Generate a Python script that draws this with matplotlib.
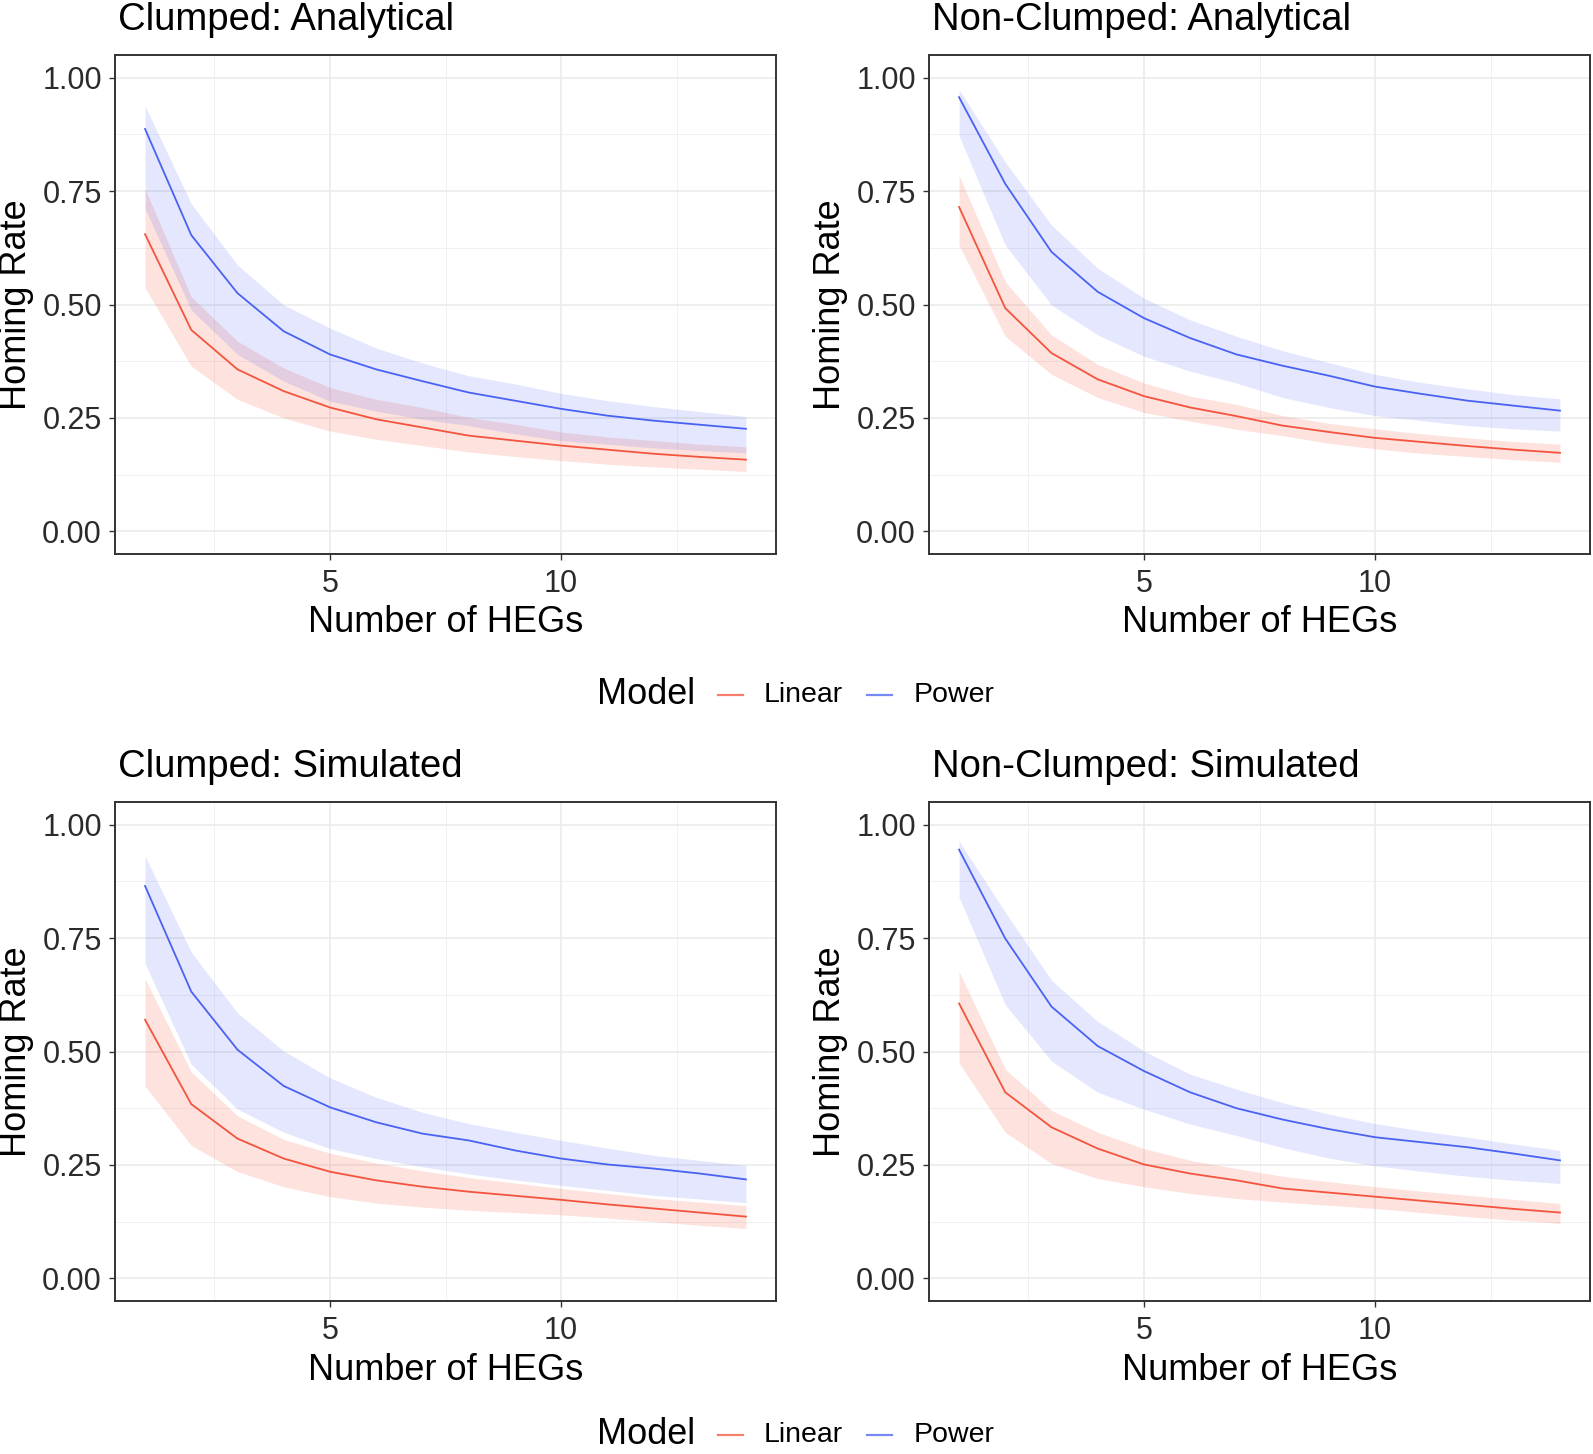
import matplotlib
matplotlib.use("Agg")
import matplotlib.pyplot as plt
from matplotlib.lines import Line2D

plt.rcParams['font.family'] = ['Liberation Sans', 'DejaVu Sans']

# number of HEGs
n_hegs = [1, 2, 3, 4, 5, 6, 7, 8, 9, 10, 11, 12, 13, 14]

# Clumped: Analytical
ca_lin = [.655, .444, .357, .309, .273, .247, .229, .211, .200, .189, .180, .171, .164, .158]
ca_lin_lo = [.537, .364, .291, .250, .221, .203, .189, .175, .165, .156, .148, .142, .137, .132]
ca_lin_hi = [.755, .517, .419, .360, .317, .291, .273, .251, .236, .219, .208, .200, .192, .186]
ca_pow = [.887, .653, .525, .441, .390, .357, .331, .306, .288, .270, .255, .244, .235, .226]
ca_pow_lo = [.711, .488, .390, .331, .287, .265, .247, .233, .215, .200, .192, .184, .178, .173]
ca_pow_hi = [.938, .722, .587, .499, .448, .404, .371, .343, .325, .304, .288, .275, .264, .253]

# Non-Clumped: Analytical
na_lin = [.715, .492, .393, .335, .298, .273, .254, .233, .219, .206, .197, .188, .180, .173]
na_lin_lo = [.631, .430, .346, .295, .262, .243, .225, .211, .194, .182, .172, .165, .158, .152]
na_lin_hi = [.784, .550, .433, .368, .327, .298, .280, .255, .238, .226, .215, .206, .198, .192]
na_pow = [.957, .766, .616, .528, .470, .426, .390, .365, .343, .319, .303, .288, .277, .266]
na_pow_lo = [.872, .631, .499, .433, .386, .353, .327, .295, .273, .255, .244, .233, .226, .221]
na_pow_hi = [.974, .814, .675, .580, .514, .466, .430, .398, .372, .346, .328, .314, .301, .292]

# Clumped: Simulated
cs_lin = [.570, .384, .308, .264, .235, .216, .202, .191, .182, .173, .163, .154, .145, .136]
cs_lin_lo = [.424, .293, .235, .202, .180, .166, .157, .150, .145, .140, .133, .125, .117, .110]
cs_lin_hi = [.660, .455, .358, .306, .276, .254, .237, .222, .210, .198, .187, .176, .168, .160]
cs_pow = [.865, .632, .504, .424, .377, .344, .319, .304, .282, .264, .251, .242, .231, .218]
cs_pow_lo = [.694, .472, .373, .322, .286, .264, .246, .230, .217, .205, .194, .183, .175, .167]
cs_pow_hi = [.931, .719, .585, .501, .442, .399, .366, .341, .322, .304, .287, .271, .260, .249]

# Non-Clumped: Simulated
ns_lin = [.606, .410, .333, .286, .251, .231, .216, .198, .189, .180, .171, .162, .153, .145]
ns_lin_lo = [.475, .322, .253, .220, .202, .187, .176, .168, .161, .154, .145, .136, .128, .121]
ns_lin_hi = [.676, .461, .370, .322, .286, .260, .242, .225, .213, .202, .192, .183, .174, .165]
ns_pow = [.945, .749, .599, .512, .457, .410, .375, .350, .329, .311, .300, .289, .275, .260]
ns_pow_lo = [.840, .603, .479, .410, .373, .340, .315, .288, .265, .248, .236, .225, .216, .209]
ns_pow_hi = [.964, .807, .657, .566, .501, .450, .417, .387, .362, .341, .325, .311, .296, .282]

RED = '#F4543D'
BLUE = '#4A62F2'
W, H = 1593, 1454

fig = plt.figure(figsize=(W / 100, H / 100), dpi=100)

panels = [
    ("Clumped: Analytical", 115, 55, ca_lin, ca_lin_lo, ca_lin_hi, ca_pow, ca_pow_lo, ca_pow_hi),
    ("Non-Clumped: Analytical", 929, 55, na_lin, na_lin_lo, na_lin_hi, na_pow, na_pow_lo, na_pow_hi),
    ("Clumped: Simulated", 115, 802, cs_lin, cs_lin_lo, cs_lin_hi, cs_pow, cs_pow_lo, cs_pow_hi),
    ("Non-Clumped: Simulated", 929, 802, ns_lin, ns_lin_lo, ns_lin_hi, ns_pow, ns_pow_lo, ns_pow_hi),
]
aw, ah = 661, 499

for title, px, py, lin, lin_lo, lin_hi, pw, pw_lo, pw_hi in panels:
    ax = fig.add_axes([px / W, 1 - (py + ah) / H, aw / W, ah / H])
    ax.fill_between(n_hegs, lin_lo, lin_hi, color=RED, alpha=0.17, lw=0)
    ax.fill_between(n_hegs, pw_lo, pw_hi, color=BLUE, alpha=0.15, lw=0)
    ax.plot(n_hegs, lin, color=RED, lw=1.3)
    ax.plot(n_hegs, pw, color=BLUE, lw=1.3)

    ax.set_xlim(0.35, 14.65)
    ax.set_ylim(-0.05, 1.05)
    ax.set_xticks([5, 10])
    ax.set_xticks([2.5, 7.5, 12.5], minor=True)
    ax.set_yticks([0, .25, .5, .75, 1])
    ax.set_yticklabels(['0.00', '0.25', '0.50', '0.75', '1.00'])
    ax.set_yticks([.125, .375, .625, .875], minor=True)
    ax.grid(which='major', color='#EBEBEB', lw=1.2)
    ax.grid(which='minor', color='#EFEFEF', lw=0.6)
    ax.set_axisbelow(True)
    ax.tick_params(which='major', length=4.5, width=1.0, color='#333333',
                   labelsize=22, labelcolor='#2b2b2b', pad=5)
    ax.tick_params(axis='x', which='major', pad=6)
    ax.tick_params(which='minor', length=0)
    for s in ax.spines.values():
        s.set_color('#333333')
        s.set_linewidth(1.4)

    fig.text((px + 3) / W, 1 - (py - 35) / H, title, fontsize=27.5,
             ha='left', va='center')
    fig.text((px + aw / 2) / W, 1 - (py + ah + 69) / H, "Number of HEGs",
             fontsize=26, ha='center', va='center')
    fig.text((px - 98) / W, 1 - (py + ah / 2) / H, "Homing Rate",
             fontsize=26, ha='center', va='center', rotation=90)

# legends (one under each row)
for ly in [695, 1435]:
    yf = 1 - ly / H
    fig.text(597 / W, yf, "Model", fontsize=26, ha='left', va='center')
    fig.add_artist(Line2D([718 / W, 743 / W], [yf, yf], color=RED, lw=1.6, alpha=0.75))
    fig.text(764 / W, yf, "Linear", fontsize=20.5, ha='left', va='center')
    fig.add_artist(Line2D([867 / W, 892 / W], [yf, yf], color=BLUE, lw=1.6, alpha=0.75))
    fig.text(914 / W, yf, "Power", fontsize=20.5, ha='left', va='center')

fig.savefig("out.png", dpi=100)
